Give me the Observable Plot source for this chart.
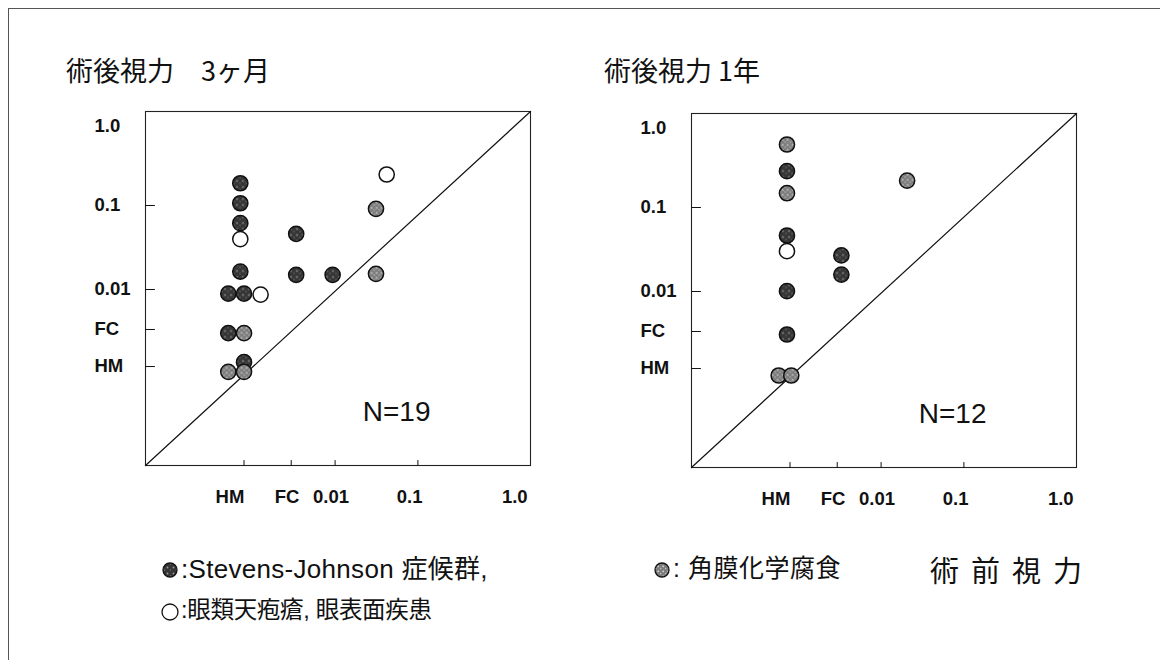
<!DOCTYPE html>
<html>
<head>
<meta charset="utf-8">
<script src="https://cdn.jsdelivr.net/npm/d3@7"></script>
<script src="https://cdn.jsdelivr.net/npm/@observablehq/plot@0.6"></script>
<style>
  html, body { margin: 0; padding: 0; background: #fff; }
  #wrap { position: relative; width: 1169px; height: 665px; background: #fff; overflow: hidden;
          font-family: "Liberation Sans", Arial, sans-serif; color: #111; }
  .abs { position: absolute; white-space: pre; line-height: 1; }
  .jp { font-family: "Noto Sans CJK JP", "Noto Sans", sans-serif; }
  .mix { font-family: "Liberation Sans", Arial, "Noto Sans CJK JP", sans-serif; }
  #borderTop { position: absolute; left: 8px; top: 8px; width: 1152px; height: 0; border-top: 1px solid #555; }
  #borderLeft { position: absolute; left: 8px; top: 8px; width: 0; height: 652px; border-left: 1px solid #555; }
  .panel { position: absolute; }
</style>
</head>
<body>
<svg width="0" height="0" style="position:absolute">
  <defs>
    <pattern id="patSJ" patternUnits="userSpaceOnUse" width="6" height="6">
      <rect width="6" height="6" fill="#353535"/>
      <circle cx="1.5" cy="1.5" r="0.9" fill="#9a9a9a"/>
      <circle cx="4.5" cy="4" r="0.7" fill="#7a7a7a"/>
    </pattern>
    <pattern id="patCH" patternUnits="userSpaceOnUse" width="5" height="5">
      <rect width="5" height="5" fill="#7c7c7c"/>
      <circle cx="1.2" cy="1.3" r="0.9" fill="#d8d8d8"/>
      <circle cx="3.7" cy="3.6" r="0.8" fill="#bdbdbd"/>
    </pattern>
  </defs>
</svg>
<div id="wrap">
  <div id="borderTop"></div>
  <div id="borderLeft"></div>
  <div class="abs jp" id="t1" style="left:66px; top:56px; font-size:27px;">術後視力　3ヶ月</div>
  <div class="abs jp" id="t2" style="left:604px; top:56px; font-size:27px;">術後視力 1年</div>
  <div class="panel" id="p1" style="left:85px; top:101px;"></div>
  <div class="panel" id="p2" style="left:631px; top:103px;"></div>
  <div id="legend"></div>
</div>
<script>
// ---- axis tick definitions (log10 visual acuity units; HM/FC placed on the chart's own positions)
const yTickPos = [0, -1, -2, -2.476, -2.917];
const yLabelPos = [-0.06, -1, -2, -2.476, -2.917];
const yTickLabels = ["1.0", "0.1", "0.01", "FC", "HM"];
const xTickMarks = [-3.1, -2.53, -2, -1];
const xLabelPos = [-3.27, -2.58, -2.05, -1.1, 0.17];
const xTickLabels = ["HM", "FC", "0.01", "0.1", "1.0"];
const xDomain = [-4.29, 0.36];
const yDomain = [-4.095, 0.119];

// ---- panel 1: 術後視力 3ヶ月 (N=19)
const p1Group = ["sj","sj","sj","open","sj","sj","sj","open","sj","chem","sj","chem","chem","sj","sj","sj","chem","chem","open"];
const p1Pre   = [-3.145,-3.145,-3.145,-3.145,-3.145,-3.29,-3.10,-2.90,-3.29,-3.10,-3.10,-3.29,-3.10,-2.47,-2.47,-2.03,-1.506,-1.506,-1.377];
const p1Post  = [-0.735,-0.973,-1.21,-1.40,-1.786,-2.05,-2.05,-2.06,-2.52,-2.52,-2.865,-2.98,-2.98,-1.337,-1.825,-1.825,-1.04,-1.813,-0.631];

// ---- panel 2: 術後視力 1年 (N=12)
const p2Group = ["chem","sj","chem","sj","open","sj","sj","sj","sj","chem","chem","chem"];
const p2Pre   = [-3.137,-3.137,-3.137,-3.137,-3.137,-2.48,-2.48,-3.137,-3.137,-3.237,-3.085,-1.686];
const p2Post  = [-0.25,-0.568,-0.83,-1.333,-1.52,-1.571,-1.798,-1.996,-2.512,-3.0,-3.0,-0.679];

const groupFill = {sj: "url(#patSJ)", chem: "url(#patCH)", open: "#ffffff"};
const nLabels = ["N=19", "N=12"];

const tickShape = { draw(context, l) { context.moveTo(0, 0); context.lineTo(0, -l); } };

function panel(pre, post, group, nLabel, nDx) {
  const pts = pre.map((x, i) => ({x, y: post[i], g: group[i]}));
  const diag = [{x: xDomain[0], y: yDomain[0]}, {x: xDomain[1], y: yDomain[1]}];
  return Plot.plot({
    width: 480, height: 420,
    marginLeft: 60, marginRight: 35, marginTop: 10, marginBottom: 56,
    x: {domain: xDomain, axis: null},
    y: {domain: yDomain, axis: null},
    color: {type: "identity"},
    style: {fontFamily: "Liberation Sans, Arial, sans-serif", background: "transparent", overflow: "visible"},
    marks: [
      Plot.frame({stroke: "#222", strokeWidth: 1.1}),
      Plot.line(diag, {x: "x", y: "y", stroke: "#111", strokeWidth: 1.2}),
      Plot.vector(yTickPos.slice(1), {y: d => d, frameAnchor: "left", rotate: 90, length: 9, anchor: "start", shape: tickShape, stroke: "#111", strokeWidth: 1}),
      Plot.vector(xTickMarks, {x: d => d, frameAnchor: "bottom", rotate: 0, length: 5, anchor: "start", shape: tickShape, stroke: "#111", strokeWidth: 1}),
      Plot.text(yLabelPos, {y: d => d, text: (d, i) => yTickLabels[i], frameAnchor: "left", textAnchor: "start", dx: -51, fontSize: 18.5, fontWeight: "bold", fill: "#111"}),
      Plot.text(xLabelPos, {x: d => d, text: (d, i) => xTickLabels[i], frameAnchor: "bottom", dy: 37, fontSize: 18.5, fontWeight: "bold", fill: "#111"}),
      Plot.dot(pts, {x: "x", y: "y", r: 7.6, fill: d => groupFill[d.g], stroke: "#111", strokeWidth: 1.5}),
      Plot.text([nLabel], {text: d => d, frameAnchor: "bottom-right", textAnchor: "end", dx: nDx, dy: -45, fontSize: 28, fill: "#111"})
    ]
  });
}

document.getElementById("p1").appendChild(panel(p1Pre, p1Post, p1Group, nLabels[0], -100));
document.getElementById("p2").appendChild(panel(p2Pre, p2Post, p2Group, nLabels[1], -90));

// ---- legend
const legendItems = [
  {g: "sj",   text: ":Stevens-Johnson 症候群,", sx: 170, sy: 570, size: 26, ls: 0.3},
  {g: "open", text: ":眼類天疱瘡, 眼表面疾患", sx: 170, sy: 612, size: 23.5, ls: -0.3},
  {g: "chem", text: ": 角膜化学腐食", sx: 662, sy: 570, size: 25, ls: 0.5}
];
const leg = document.getElementById("legend");
for (const it of legendItems) {
  const s = document.createElementNS("http://www.w3.org/2000/svg", "svg");
  s.setAttribute("width", 20); s.setAttribute("height", 20);
  s.style.position = "absolute"; s.style.left = (it.sx - 10) + "px"; s.style.top = (it.sy - 10) + "px";
  s.innerHTML = `<circle cx="10" cy="10" r="${it.g === "open" ? 8 : 7}" fill="${groupFill[it.g]}" stroke="#111" stroke-width="1.3"/>`;
  leg.appendChild(s);
  const t = document.createElement("div");
  t.className = "abs mix";
  t.style.left = (it.sx + 11) + "px"; t.style.top = (it.sy - it.size * 0.55) + "px";
  t.style.fontSize = it.size + "px"; t.style.letterSpacing = it.ls + "px";
  t.textContent = it.text;
  leg.appendChild(t);
}
const xt = document.createElement("div");
xt.className = "abs jp";
xt.style.left = "930px"; xt.style.top = "555px"; xt.style.fontSize = "29px"; xt.style.letterSpacing = "12px";
xt.textContent = "術前視力";
leg.appendChild(xt);
</script>
</body>
</html>
